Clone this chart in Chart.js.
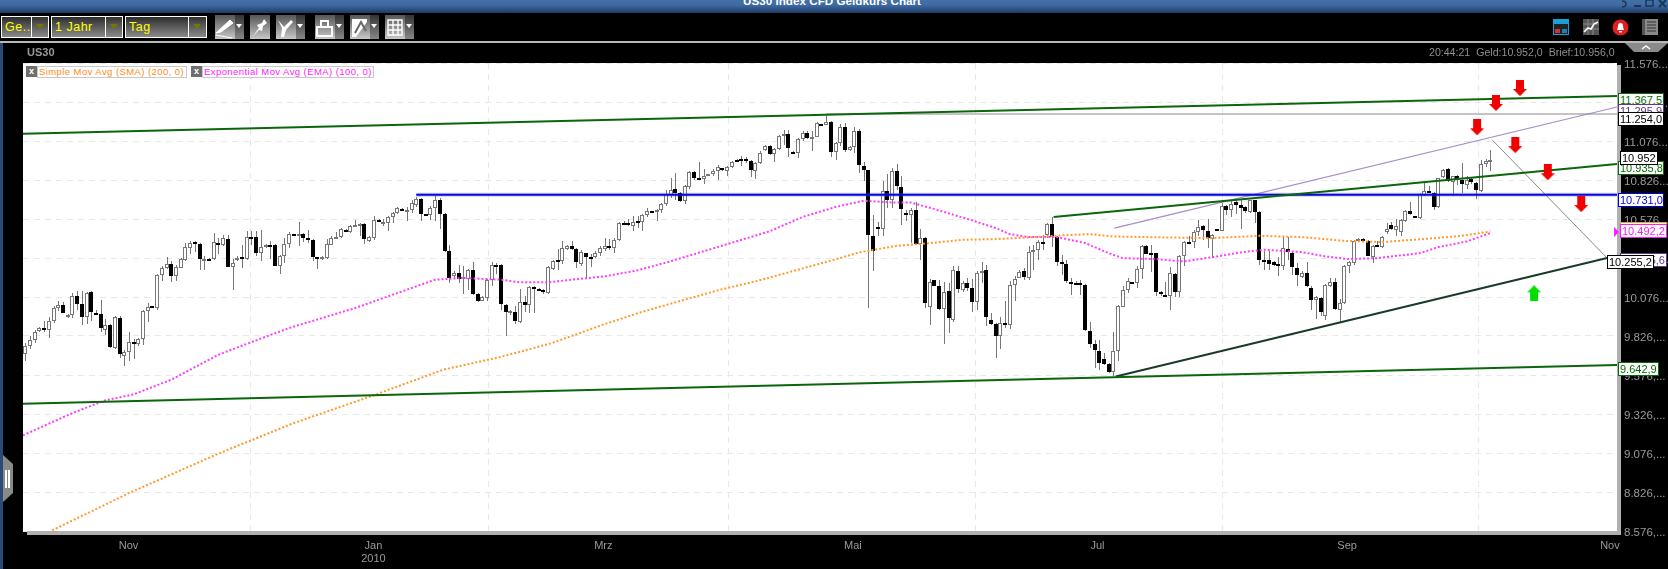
<!DOCTYPE html>
<html lang="de">
<head>
<meta charset="UTF-8">
<title>US30 Index CFD Geldkurs Chart</title>
<script src="https://cdn.jsdelivr.net/npm/chart.js"></script>
<style>
    html, body { margin: 0; padding: 0; background: #000; overflow: hidden; }
    body { width: 1668px; height: 569px; position: relative; font-family: "Liberation Sans", Arial, sans-serif; }
    canvas#usChart { position: absolute; left: 0; top: 0; }
    .abs { position: absolute; }
    #titlebar { left: 0; top: 0; width: 1668px; height: 13px; overflow: hidden;
        background: linear-gradient(#44719f, #3d6aa6 40%, #1f3a60); }
    #titlebar span { position: absolute; left: 743px; top: -6px; color: #fff; font-weight: bold; font-size: 11.7px; white-space: nowrap; }
    #rule { left: 0; top: 41px; width: 1668px; height: 2px; background: #b8b8b8; }
    #strip { left: 0; top: 43px; width: 3px; height: 526px; background: #2b4a78; }
    .combo { top: 16px; height: 20px; border: 1px solid #fff; background: linear-gradient(#2c2c2c, #8a8a8a);
        color: #ff0; font-size: 12.5px; line-height: 20px; letter-spacing: .5px; padding-left: 3px; box-sizing: content-box; }
    .combo i { position: absolute; top: 0; bottom: 0; right: 0; border-left: 1px solid #fff; background: linear-gradient(#333, #8a8a8a); }
    .combo i:after { content: ""; position: absolute; left: 4px; top: 7px; border-left: 4px solid transparent; border-right: 4px solid transparent; border-top: 5px solid #777700; }
    .btn { top: 15px; height: 24px; width: 20px; background: linear-gradient(#555, #c8c8c8); }
    .btn svg { position: absolute; left: 0; top: 0; }
    .drop { top: 15px; height: 24px; width: 9px; background: linear-gradient(#333, #888); }
    .drop:after { content: ""; position: absolute; left: 1px; top: 9px; border-left: 3px solid transparent; border-right: 3px solid transparent; border-top: 4px solid #fff; }
    #sym { left: 27px; top: 46px; color: #999; font-size: 11px; font-weight: bold; }
    #quote { left: 1429px; top: 46px; color: #8e8e8e; font-size: 10.6px; white-space: nowrap; word-spacing: 3px; }
    .lgx { top: 66px; width: 11px; height: 11px; background: #6e6e6e; color: #fff; font-size: 9px; line-height: 10px; text-align: center; font-weight: bold; }
    .lg { top: 66px; height: 10px; border: 1px solid #c8c8c8; background: #fff; font-size: 9.5px; line-height: 10px; letter-spacing: .42px; padding: 0 1px; white-space: nowrap; overflow: hidden; }
    #barRight { left: 1617px; top: 65px; width: 4px; height: 470px; background: #b0b0b0; }
    #barBottom { left: 27px; top: 531px; width: 1594px; height: 4px; background: #b0b0b0; }
    .tag { position: absolute; background: #fff; border: 1px solid #000; font-size: 11px; line-height: 12px; height: 12px; padding: 0 1px; white-space: nowrap; }
</style>
</head>
<body>
<canvas id="usChart" width="1668" height="569"></canvas>

<div class="abs" id="titlebar"><span>US30 Index CFD Geldkurs Chart</span></div>
<div class="abs" id="rule"></div>
<div class="abs" id="strip"></div>

<div class="abs combo" style="left:1px;width:43px">Ge...<i style="width:16px"></i></div>
<div class="abs combo" style="left:51px;width:67px">1 Jahr<i style="width:16px"></i></div>
<div class="abs combo" style="left:125px;width:77px">Tag<i style="width:17px"></i></div>

<div class="abs btn" style="left:215px"><svg width="20" height="24"><path d="M1 18 L15 5 L18 8 L6 17 Z M1 20 L17 23" fill="#fff" stroke="#fff"/></svg></div><div class="abs drop" style="left:235px"></div>
<div class="abs btn" style="left:250px"><svg width="20" height="24"><path d="M3 21 L9 13 L7 10 L12 8 L14 4 L17 8 L13 11 L12 16 L9 15 Z" fill="#fff"/></svg></div>
<div class="abs btn" style="left:276px"><svg width="20" height="24"><path d="M2 5 L8 12 L12 8 L15 5 L17 7 L10 15 L8 22 L5 22 L6 13 Z" fill="#fff"/></svg></div><div class="abs drop" style="left:296px"></div>
<div class="abs btn" style="left:315px"><svg width="20" height="24"><path d="M2 12 H17 V21 H2 Z M6 12 V6 H13 V12" fill="none" stroke="#fff" stroke-width="2"/></svg></div><div class="abs drop" style="left:335px"></div>
<div class="abs btn" style="left:350px"><svg width="20" height="24"><path d="M2 4 H17 V7 L6 22 H2 Z" fill="#fff"/><path d="M5 18 L11 7 L16 16" fill="none" stroke="#666" stroke-width="2"/></svg></div><div class="abs drop" style="left:370px"></div>
<div class="abs btn" style="left:385px"><svg width="20" height="24"><path d="M3 5 H17 V20 H3 Z M3 10 H17 M3 15 H17 M8 5 V20 M13 5 V20" fill="none" stroke="#fff" stroke-width="1.4"/></svg></div><div class="abs drop" style="left:405px"></div>

<svg class="abs" style="left:1553px;top:19px" width="16" height="16"><rect width="16" height="16" fill="#1a9fd8"/><rect x="1" y="5" width="14" height="10" fill="#222"/><rect x="2" y="10" width="5" height="4" fill="#c33"/><rect x="9" y="10" width="5" height="4" fill="#1a7fc0"/></svg>
<svg class="abs" style="left:1583px;top:19px" width="16" height="16"><rect width="16" height="16" fill="#555"/><path d="M0 5 H16 M0 10 H16 M5 0 V16 M10 0 V16" stroke="#888"/><path d="M1 13 L5 9 L8 10 L11 5 L15 3" fill="none" stroke="#fff" stroke-width="1.6"/></svg>
<svg class="abs" style="left:1612px;top:19px" width="17" height="17"><circle cx="8.5" cy="8.5" r="8" fill="#e02020"/><path d="M5 11 Q6 9 6 7 Q6 4 8.5 4 Q11 4 11 7 Q11 9 12 11 Z M7 12 H10 V13.5 H7 Z" fill="#fff"/></svg>
<svg class="abs" style="left:1642px;top:19px" width="16" height="16"><rect x="3" width="13" height="16" fill="#888"/><rect width="3" height="16" x="0" fill="#555"/><path d="M5 3 H14 M5 6 H14 M5 9 H14 M5 12 H14" stroke="#333"/></svg>
<svg class="abs" style="left:1610px;top:0" width="58" height="13"><path d="M12 1 Q16 1 16 4 Q16 7 12 7" fill="none" stroke="#1d3658" stroke-width="1.6"/><path d="M24 6 H31" stroke="#1d3658" stroke-width="2"/><rect x="36" y="0" width="7" height="6" fill="none" stroke="#1d3658" stroke-width="1.5"/><path d="M49 0 L56 7 M56 0 L49 7" stroke="#1d3658" stroke-width="2"/></svg>
<svg class="abs" style="left:1625px;top:43px" width="43" height="10"><path d="M0 0 H43 L33 9 H9 Z" fill="#8a8a8a"/><path d="M17 6 L21 3 L25 6" fill="none" stroke="#fff" stroke-width="1.5"/></svg>
<svg class="abs" style="left:3px;top:455px" width="10" height="47"><path d="M0 0 L10 9 V38 L0 47 Z" fill="#8a8a8a"/><path d="M3 15 V33 M6 15 V33" stroke="#fff" stroke-width="2"/></svg>

<div class="abs" id="sym">US30</div>
<div class="abs" id="quote">20:44:21 Geld:10.952,0 Brief:10.956,0</div>

<div class="abs lgx" style="left:26px">x</div>
<div class="abs lg" style="left:37px;width:146px;color:#ff8c1a">Simple Mov Avg (SMA) (200, 0)</div>
<div class="abs lgx" style="left:191px">x</div>
<div class="abs lg" style="left:202px;width:168px;color:#ff1aff">Exponential Mov Avg (EMA) (100, 0)</div>

<div class="abs" id="barRight"></div>
<div class="abs" id="barBottom"></div>

<div class="tag" style="left:1618px;top:93px;width:42px;border-color:#0a6a0a;color:#0a6a0a">11.367,5</div>
<div class="tag" style="left:1618px;top:104px;width:42px;border-color:#5a3a8a;color:#5a3a8a">11.295,9</div>
<div class="tag" style="left:1618px;top:112px;width:42px">11.254,0</div>
<div class="tag" style="left:1618px;top:161px;width:42px;border-color:#0a6a0a;color:#0a6a0a">10.935,8</div>
<div class="tag" style="left:1620px;top:151px;width:34px">10.952</div>
<div class="tag" style="left:1618px;top:193px;width:42px;border-color:#0000e0;color:#0000e0">10.731,0</div>
<div class="tag" style="left:1620px;top:222px;width:43px;border-color:#ff9a2e;color:#ff9a2e">10.492,0</div>
<div class="tag" style="left:1620px;top:224px;width:43px;border-color:#ff1aff;color:#ff1aff">10.492,2</div>
<div class="abs" style="left:1614px;top:227px;border-left:5px solid #ff1aff;border-top:5px solid transparent;border-bottom:5px solid transparent"></div>
<div class="tag" style="left:1620px;top:253px;width:43px;border-color:#5a3a8a;color:#5a3a8a;text-align:right">10.255,6</div>
<div class="tag" style="left:1607px;top:255px;width:43px">10.255,2</div>
<div class="tag" style="left:1618px;top:362px;width:37px;border-color:#0a6a0a;color:#0a6a0a">9.642,9</div>

<script>
    // daily candles, values
    const opens = [
        9708,9760,9800,9856,9877,9862,9920,10003,10024,9952,
        9958,10084,10033,9945,10110,9973,9969,9866,9898,9751,
        9943,9695,9721,9787,9772,9804,9986,10018,10007,10215,
        10260,10289,10208,10264,10313,10388,10431,10418,10311,10321,
        10317,10424,10411,10450,10266,10313,10334,10321,10463,10463,
        10356,10401,10411,10411,10272,10336,10413,10480,10474,10482,
        10454,10443,10332,10330,10328,10411,10454,10458,10505,10490,
        10531,10537,10546,10433,10454,10572,10550,10552,10587,10612,
        10640,10627,10631,10668,10706,
        10606,10599,10646,10700,10610,10373,10208,10232,10191,10193,
        10251,10097,10052,10072,10183,10281,10283,10027,9973,9982,
        9913,10046,10025,10142,10127,10123,10104,10258,10313,10305,
        10381,10405,10386,10290,10358,10332,10332,10356,10386,10405,
        10388,10441,10552,10552,10529,10565,10557,10599,10627,10619,
        10634,10674,10732,10770,10743,10689,10781,10879,10839,10830,
        10856,10862,10884,10903,10882,10907,10956,10958,10961,10948,
        10882,10933,11016,11046,10993,11023,11106,11123,11008,10997,
        11087,11129,11087,11104,11185,11181,11200,11005,11063,11168,
        11016,11035,11142,10918,10887,10469,10524,10511,10755,10697,
        10885,10783,10616,10599,10635,10415,10454,10015,10186,10148,
        10001,10116,9930,10244,10122,10167,10135,10041,10227,10251,
        9928,9902,9823,9911,9894,10150,10201,10240,10195,10362,
        10375,10430,10475,10545,10462,10302,10289,10174,10165,10163,
        10154,9859,9776,9733,9680,9646,9595,9727,10015,10122,
        10171,10163,10255,10405,10358,10358,10108,10091,10080,10225,
        10110,10336,10431,10426,10490,10533,10501,10448,10512,10501,
        10661,10631,10683,10666,10653,10619,10695,10623,10315,10315,
        10302,10287,10277,10386,10360,10264,10202,10232,10136,10054,
        10072,9956,10144,10174,9994,10035,10272,10295,10436,10447,
        10432,10332,10411,10394,10490,10537,10507,10494,10560,10629,
        10595,10580,10731,10757,10742,10650,10845,10896,10810,10853,
        10827,10793,10834,10806,10757,10928,10947
    ];
    const highs = [
        9781,9824,9862,9881,9920,9948,10016,10048,10042,9969,
        10101,10112,10112,10110,10112,9990,10054,9935,9903,9956,
        9952,9734,9854,9807,9815,9995,10037,10020,10223,10272,
        10332,10304,10283,10326,10422,10433,10435,10422,10336,10326,
        10486,10454,10475,10475,10320,10341,10409,10497,10497,10497,
        10507,10416,10433,10416,10343,10454,10490,10482,10557,10486,
        10503,10448,10334,10341,10448,10465,10495,10518,10510,10540,
        10572,10550,10550,10465,10593,10578,10576,10597,10621,10653,
        10646,10653,10695,10717,10710,
        10610,10657,10726,10711,10612,10411,10240,10283,10272,10255,
        10298,10102,10084,10191,10298,10294,10287,10031,9990,10020,
        10127,10080,10149,10149,10134,10129,10277,10315,10386,10433,
        10411,10437,10390,10379,10360,10354,10369,10401,10454,10450,
        10454,10555,10561,10576,10597,10593,10610,10646,10629,10640,
        10679,10760,10839,10871,10747,10796,10886,10884,10944,10896,
        10867,10896,10922,10905,10918,10950,10958,10978,10973,10952,
        10941,11010,11053,11053,11031,11117,11144,11144,11010,11095,
        11138,11138,11138,11200,11187,11243,11202,11067,11185,11191,
        11046,11166,11153,10941,10889,10603,10556,10821,10866,10902,
        10930,10849,10635,10646,10682,10511,10458,10191,10188,10182,
        10169,10165,10272,10272,10176,10197,10191,10240,10300,10283,
        9973,9909,9951,10048,10176,10208,10246,10261,10400,10411,
        10443,10475,10550,10588,10464,10347,10315,10197,10176,10186,
        10159,9915,9802,9802,9716,9652,9849,10026,10144,10197,
        10173,10272,10409,10409,10411,10360,10112,10170,10266,10230,
        10347,10435,10465,10507,10572,10537,10576,10482,10514,10678,
        10668,10700,10704,10700,10657,10700,10700,10625,10369,10369,
        10304,10332,10469,10460,10362,10294,10240,10298,10144,10080,
        10076,10157,10197,10197,10065,10283,10308,10443,10453,10453,
        10439,10411,10432,10468,10550,10554,10575,10575,10635,10682,
        10597,10742,10817,10785,10746,10842,10896,10900,10853,10857,
        10934,10853,10838,10810,10956,10960,11020
    ];
    const lows = [
        9668,9742,9781,9849,9849,9811,9909,9984,9973,9939,
        9941,9990,9894,9905,9920,9965,9849,9834,9749,9742,
        9685,9636,9663,9676,9760,9768,9913,10014,9995,10176,
        10255,10170,10176,10260,10309,10349,10362,10251,10247,10304,
        10315,10354,10405,10266,10119,10309,10262,10315,10407,10341,
        10304,10392,10321,10275,10225,10294,10392,10476,10405,10426,
        10424,10304,10257,10311,10319,10407,10448,10452,10492,10484,
        10525,10469,10418,10428,10443,10559,10529,10497,10550,10606,
        10625,10561,10614,10653,10561,
        10593,10572,10561,10514,10362,10166,10198,10166,10097,10123,
        10091,10042,10048,10048,10144,10225,9995,9828,9963,9905,
        9909,9978,9973,9973,10112,10097,10097,10247,10251,10290,
        10377,10379,10262,10272,10191,10268,10326,10337,10369,10375,
        10358,10437,10540,10533,10501,10518,10497,10589,10623,10561,
        10614,10657,10711,10696,10683,10672,10768,10828,10832,10802,
        10849,10849,10828,10882,10854,10901,10952,10914,10935,10843,
        10835,10931,11010,10988,10941,11020,11048,10971,11001,10965,
        11074,11089,11010,11100,11181,11176,10973,10952,11042,11003,
        11010,11000,10871,10817,10005,10240,10464,10464,10646,10646,
        10763,10535,10565,10422,10411,10315,10005,9894,10146,9994,
        9776,9845,9913,10101,10105,10112,9977,9994,10165,9887,
        9898,9684,9744,9877,9870,10052,10197,10186,10182,10251,
        10310,10379,10454,10396,10276,10219,10165,10086,10150,10086,
        9855,9748,9620,9609,9642,9592,9567,9663,10011,10101,
        10165,10133,10191,10351,10234,10080,10080,10076,9990,10076,
        10076,10277,10422,10390,10465,10443,10390,10326,10497,10497,
        10604,10589,10610,10512,10614,10614,10550,10279,10247,10251,
        10277,10208,10251,10315,10215,10144,10198,10138,9990,9935,
        9952,9930,10139,9994,9915,10030,10233,10283,10432,10434,
        10336,10297,10396,10389,10481,10507,10468,10468,10556,10601,
        10584,10575,10725,10742,10635,10646,10842,10810,10725,10795,
        10742,10768,10802,10703,10746,10909,10881
    ];
    const closes = [
        9764,9800,9854,9877,9868,9922,10005,10024,9975,9960,
        10084,10033,9950,10104,9977,9969,9875,9898,9757,9945,
        9712,9725,9787,9779,9809,9986,10014,10016,10219,10264,
        10289,10213,10268,10321,10396,10424,10426,10317,10321,10311,
        10431,10420,10454,10270,10294,10326,10330,10463,10460,10360,
        10396,10409,10407,10277,10341,10418,10482,10478,10482,10456,
        10443,10332,10330,10334,10416,10454,10460,10512,10497,10529,
        10540,10546,10445,10460,10572,10563,10559,10589,10614,10646,
        10631,10633,10678,10706,10610,
        10604,10649,10700,10610,10373,10200,10230,10193,10204,10251,
        10097,10052,10078,10187,10283,10277,10029,9982,9986,9920,
        10046,10027,10142,10131,10123,10114,10270,10309,10307,10392,
        10403,10386,10302,10367,10330,10328,10360,10392,10403,10394,
        10443,10550,10550,10535,10559,10561,10604,10629,10625,10634,
        10672,10736,10764,10745,10693,10788,10879,10841,10835,10852,
        10862,10886,10911,10888,10909,10944,10954,10956,10950,10888,
        10935,11000,11046,10995,11025,11110,11123,11033,11003,11091,
        11129,11093,11104,11194,11183,11198,11008,11063,11168,11020,
        11037,11142,10920,10888,10471,10370,10516,10755,10699,10885,
        10785,10637,10612,10635,10417,10454,10039,10171,10148,10001,
        10110,9939,10251,10129,10165,10131,10045,10231,10244,9951,
        9900,9827,9911,9907,10154,10191,10238,10204,10366,10379,
        10426,10417,10545,10462,10302,10289,10176,10163,10157,10150,
        9862,9776,9738,9652,9648,9597,9731,10020,10122,10180,
        10167,10257,10405,10354,10354,10110,10097,10084,10230,10110,
        10341,10431,10426,10492,10525,10503,10454,10473,10507,10661,
        10636,10674,10668,10648,10629,10695,10623,10315,10311,10289,
        10283,10283,10390,10362,10266,10219,10232,10144,10059,10076,
        9977,10153,10169,10000,10037,10276,10300,10436,10447,10439,
        10340,10406,10400,10462,10515,10511,10528,10567,10629,10605,
        10586,10736,10757,10753,10652,10838,10892,10817,10849,10832,
        10800,10827,10810,10763,10928,10947,10952
    ];

    // moving averages, read at the bars where the curve changes
    const emaBars = [-0.49,10,17,23,31,41,48,56,63,70,77,87,93,101,105,111,116,123,130,137,144,151,158,165,172,178,184,188,194,201,206,209,213,219,225,230,233,240,246,253,258,263,271,276,281,287,296,300,306,311];
    const emaValues = [9189,9332,9414,9452,9546,9706,9787,9877,9941,10005,10080,10187,10198,10187,10170,10170,10187,10208,10247,10305,10369,10433,10497,10589,10653,10693,10682,10682,10631,10567,10518,10479,10460,10460,10422,10357,10325,10319,10304,10336,10362,10379,10364,10336,10319,10325,10357,10396,10432,10486];
    const smaBars = [5.7,22,41,57,74,79.6,88.7,100.8,111.4,122.7,130.5,140.5,147.5,155,162,173,177,185,192,199,206,213,220,226,231,241.5,252,262,271,280,288,297.5,305,311];
    const smaValues = [8580,8819,9072,9268,9446,9509,9610,9691,9777,9899,9977,10063,10123,10176,10234,10326,10362,10404,10421,10443,10447,10458,10471,10479,10464,10458,10454,10468,10460,10436,10428,10449,10468,10496];

    // drawn trend lines: [bar, value] at both ends
    const channelTop = [[-0.49, 11123], [337.9, 11364]];
    const channelBottom = [[-0.49, 9392], [337.9, 9640]];
    const channelMiddle = [[218.3, 10589], [337.9, 10929]];
    const resistanceBlue = [[83, 10731], [337.9, 10731]];
    const resistanceGrey = [[170, 11249], [337.9, 11249]];
    const purpleLine = [[231.2, 10518], [337.9, 11294]];
    const supportLine = [[231.5, 9567], [335.8, 10326]];
    const projectionLine = [[311.5, 11080], [335.8, 10326]];

    // arrows stuck on the chart: [bar, value]
    const downArrows = [[317.3, 11416], [312.2, 11320], [308.2, 11164], [316.3, 11050], [323.2, 10876], [330.3, 10672]];
    const upArrows = [[320.3, 10100]];

    // axis ticks
    const monthBars = [21.9, 73.9, 122.7, 175.7, 227.6, 280.6, 336.4];
    const monthLabels = ['Nov', ['Jan', '2010'], 'Mrz', 'Mai', 'Jul', 'Sep', 'Nov'];
    const yTicks = [8576, 8826, 9076, 9326, 9576, 9826, 10076, 10326, 10576, 10826, 11076, 11326, 11576];
    const yTickLabels = ['8.576,...', '8.826,...', '9.076,...', '9.326,...', '9.576,...', '9.826,...', '10.076...', '10.326...', '10.576...', '10.826...', '11.076...', '11.326...', '11.576...'];

    function makeArrow(color, up) {
        const c = document.createElement('canvas');
        c.width = 14;
        c.height = 16;
        const g = c.getContext('2d');
        g.fillStyle = color;
        g.beginPath();
        if (up) {
            g.moveTo(7, 0); g.lineTo(14, 7); g.lineTo(11, 7); g.lineTo(11, 16); g.lineTo(3, 16); g.lineTo(3, 7); g.lineTo(0, 7);
        } else {
            g.moveTo(3, 0); g.lineTo(11, 0); g.lineTo(11, 9); g.lineTo(14, 9); g.lineTo(7, 16); g.lineTo(0, 9); g.lineTo(3, 9);
        }
        g.closePath();
        g.fill();
        return c;
    }

    function toPoints(pairs) {
        return pairs.map(function(p) { return { x: p[0], y: p[1] }; });
    }

    function lineSet(pairs, color, width, order) {
        return { type: 'line', data: toPoints(pairs), borderColor: color, borderWidth: width, pointRadius: 0, fill: false, order: order };
    }

    const bars = opens.map(function(o, i) { return i; });

    const wicks = {
        type: 'bar',
        data: bars.map(function(i) { return { x: i, y: [lows[i], highs[i]] }; }),
        backgroundColor: '#777',
        barThickness: 1,
        grouped: false,
        inflateAmount: 0,
        order: 6
    };
    const bodies = {
        type: 'bar',
        data: bars.map(function(i) { return { x: i, y: [opens[i], closes[i]] }; }),
        backgroundColor: bars.map(function(i) { return closes[i] >= opens[i] ? '#fff' : '#000'; }),
        borderColor: bars.map(function(i) { return closes[i] >= opens[i] ? '#777' : '#000'; }),
        borderWidth: 1,
        borderSkipped: false,
        barThickness: 4,
        grouped: false,
        inflateAmount: 0,
        order: 5
    };

    const sma = lineSet(smaBars.map(function(b, i) { return [b, smaValues[i]]; }), '#ff9a2e', 2, 3);
    sma.borderDash = [2, 2];
    const ema = lineSet(emaBars.map(function(b, i) { return [b, emaValues[i]]; }), '#ff3dff', 2, 3);
    ema.borderDash = [2, 2];

    const chartFill = {
        id: 'chartFill',
        beforeDraw: function(chart) {
            const a = chart.chartArea;
            chart.ctx.fillStyle = '#fff';
            chart.ctx.fillRect(a.left, a.top, a.right - a.left, a.bottom - a.top);
        }
    };

    // keep the candles on whole pixels so the outlines stay sharp
    const snapCandles = {
        id: 'snapCandles',
        beforeDatasetsDraw: function(chart) {
            chart.getSortedVisibleDatasetMetas().forEach(function(meta) {
                if (meta.type !== 'bar') return;
                const isWick = meta.controller.getDataset().barThickness === 1;
                meta.data.forEach(function(el) {
                    el.x = Math.round(el.x) + (isWick ? 0.5 : 0);
                    el.y = Math.round(el.y);
                    el.base = Math.round(el.base);
                    if (!isWick && Math.abs(el.y - el.base) < 2) el.base = el.y + 2;
                });
            });
        }
    };

    new Chart(document.getElementById('usChart').getContext('2d'), {
        data: {
            datasets: [
                { type: 'line', data: toPoints(downArrows), showLine: false, pointStyle: makeArrow('#f00000', false), pointRadius: 6, order: 1 },
                { type: 'line', data: toPoints(upArrows), showLine: false, pointStyle: makeArrow('#00e000', true), pointRadius: 6, order: 1 },
                lineSet(channelTop, '#0b660b', 2, 2),
                lineSet(channelBottom, '#0b660b', 2, 2),
                lineSet(channelMiddle, '#0b660b', 2, 2),
                lineSet(resistanceBlue, '#0808d8', 2, 2),
                lineSet(resistanceBlue, 'rgba(90,90,255,.3)', 4, 2),
                lineSet(resistanceGrey, '#888', 1, 2),
                lineSet(purpleLine, '#a58cc6', 1.2, 2),
                lineSet(supportLine, '#1a3a28', 2, 2),
                lineSet(projectionLine, '#888', 1, 2),
                sma,
                ema,
                bodies,
                wicks
            ]
        },
        options: {
            responsive: false,
            animation: false,
            events: [],
            layout: { padding: { left: 23, top: 63, right: 0, bottom: 0 } },
            plugins: { legend: { display: false }, tooltip: { enabled: false } },
            scales: {
                x: {
                    type: 'linear',
                    min: -0.49,
                    max: 337.9,
                    offset: false,
                    afterBuildTicks: function(axis) {
                        axis.ticks = monthBars.map(function(v) { return { value: v }; });
                    },
                    afterFit: function(axis) { axis.height = 38; },
                    grid: { color: '#e8e8e8', drawTicks: false },
                    border: { display: false, dash: [6, 5] },
                    ticks: {
                        autoSkip: false,
                        maxRotation: 0,
                        color: '#9a9a9a',
                        padding: 8,
                        font: { family: 'Liberation Sans', size: 11 },
                        callback: function(value, index) { return monthLabels[index]; }
                    }
                },
                y: {
                    type: 'linear',
                    position: 'right',
                    min: 8576,
                    max: 11576,
                    afterBuildTicks: function(axis) {
                        axis.ticks = yTicks.map(function(v) { return { value: v }; });
                    },
                    afterFit: function(axis) { axis.width = 51; },
                    grid: { color: '#e8e8e8', drawTicks: false },
                    border: { display: false, dash: [6, 5] },
                    ticks: {
                        autoSkip: false,
                        color: '#9a9a9a',
                        padding: 7,
                        labelOffset: 1.5,
                        font: { family: 'Liberation Sans', size: 11.5 },
                        callback: function(value, index) { return yTickLabels[index]; }
                    }
                }
            }
        },
        plugins: [chartFill, snapCandles]
    });
</script>
</body>
</html>
